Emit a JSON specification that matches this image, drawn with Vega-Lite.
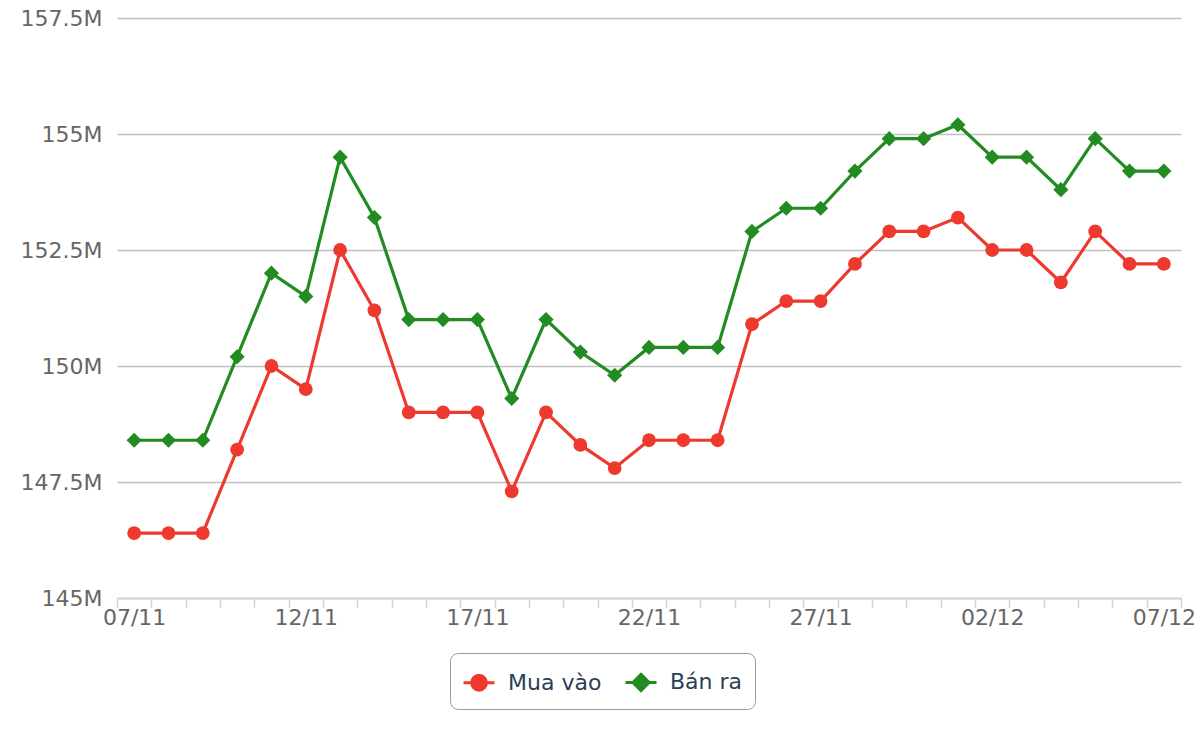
{
  "$schema": "https://vega.github.io/schema/vega-lite/v6.json",
  "width": 1064,
  "height": 580,
  "autosize": "none",
  "padding": {"left": 117, "top": 18, "right": 19, "bottom": 142},
  "background": "white",
  "config": {
    "view": {"stroke": null}, "font": "DejaVu Sans",
    "legend": {"strokeColor": "#999999", "cornerRadius": 8, "padding": 12, "fillColor": "white"}
  },
  "data": {"values": [
    {"date":"07/11","series":"Mua vào","price":146400000},{"date":"07/11","series":"Bán ra","price":148400000},
    {"date":"08/11","series":"Mua vào","price":146400000},{"date":"08/11","series":"Bán ra","price":148400000},
    {"date":"09/11","series":"Mua vào","price":146400000},{"date":"09/11","series":"Bán ra","price":148400000},
    {"date":"10/11","series":"Mua vào","price":148200000},{"date":"10/11","series":"Bán ra","price":150200000},
    {"date":"11/11","series":"Mua vào","price":150000000},{"date":"11/11","series":"Bán ra","price":152000000},
    {"date":"12/11","series":"Mua vào","price":149500000},{"date":"12/11","series":"Bán ra","price":151500000},
    {"date":"13/11","series":"Mua vào","price":152500000},{"date":"13/11","series":"Bán ra","price":154500000},
    {"date":"14/11","series":"Mua vào","price":151200000},{"date":"14/11","series":"Bán ra","price":153200000},
    {"date":"15/11","series":"Mua vào","price":149000000},{"date":"15/11","series":"Bán ra","price":151000000},
    {"date":"16/11","series":"Mua vào","price":149000000},{"date":"16/11","series":"Bán ra","price":151000000},
    {"date":"17/11","series":"Mua vào","price":149000000},{"date":"17/11","series":"Bán ra","price":151000000},
    {"date":"18/11","series":"Mua vào","price":147300000},{"date":"18/11","series":"Bán ra","price":149300000},
    {"date":"19/11","series":"Mua vào","price":149000000},{"date":"19/11","series":"Bán ra","price":151000000},
    {"date":"20/11","series":"Mua vào","price":148300000},{"date":"20/11","series":"Bán ra","price":150300000},
    {"date":"21/11","series":"Mua vào","price":147800000},{"date":"21/11","series":"Bán ra","price":149800000},
    {"date":"22/11","series":"Mua vào","price":148400000},{"date":"22/11","series":"Bán ra","price":150400000},
    {"date":"23/11","series":"Mua vào","price":148400000},{"date":"23/11","series":"Bán ra","price":150400000},
    {"date":"24/11","series":"Mua vào","price":148400000},{"date":"24/11","series":"Bán ra","price":150400000},
    {"date":"25/11","series":"Mua vào","price":150900000},{"date":"25/11","series":"Bán ra","price":152900000},
    {"date":"26/11","series":"Mua vào","price":151400000},{"date":"26/11","series":"Bán ra","price":153400000},
    {"date":"27/11","series":"Mua vào","price":151400000},{"date":"27/11","series":"Bán ra","price":153400000},
    {"date":"28/11","series":"Mua vào","price":152200000},{"date":"28/11","series":"Bán ra","price":154200000},
    {"date":"29/11","series":"Mua vào","price":152900000},{"date":"29/11","series":"Bán ra","price":154900000},
    {"date":"30/11","series":"Mua vào","price":152900000},{"date":"30/11","series":"Bán ra","price":154900000},
    {"date":"01/12","series":"Mua vào","price":153200000},{"date":"01/12","series":"Bán ra","price":155200000},
    {"date":"02/12","series":"Mua vào","price":152500000},{"date":"02/12","series":"Bán ra","price":154500000},
    {"date":"03/12","series":"Mua vào","price":152500000},{"date":"03/12","series":"Bán ra","price":154500000},
    {"date":"04/12","series":"Mua vào","price":151800000},{"date":"04/12","series":"Bán ra","price":153800000},
    {"date":"05/12","series":"Mua vào","price":152900000},{"date":"05/12","series":"Bán ra","price":154900000},
    {"date":"06/12","series":"Mua vào","price":152200000},{"date":"06/12","series":"Bán ra","price":154200000},
    {"date":"07/12","series":"Mua vào","price":152200000},{"date":"07/12","series":"Bán ra","price":154200000}
  ]},
  "encoding": {
    "x": {
      "field": "date", "type": "ordinal", "sort": null,
      "scale": {"type": "band", "paddingInner": 0, "paddingOuter": 0},
      "axis": {
        "title": null, "labelAngle": 0, "tickBand": "extent",
        "domainColor": "#c8d3dc", "domainWidth": 1.5, "tickColor": "#c8d3dc", "tickWidth": 1.5, "tickSize": 9,
        "labelColor": "#666666", "labelFontSize": 22, "labelPadding": 0,
        "labelExpr": "indexof(['07/11','12/11','17/11','22/11','27/11','02/12','07/12'], datum.value) >= 0 ? datum.value : ''",
        "grid": false
      }
    },
    "y": {
      "field": "price", "type": "quantitative",
      "scale": {"domain": [145000000, 157500000], "nice": false, "zero": false},
      "axis": {
        "title": null, "values": [145000000, 147500000, 150000000, 152500000, 155000000, 157500000],
        "labelExpr": "format(datum.value / 1000000, '') + 'M'",
        "domain": false, "ticks": false, "grid": true, "gridColor": "#c0c0c0", "gridWidth": 1.5,
        "labelColor": "#666666", "labelFontSize": 22, "labelPadding": 15
      }
    },
    "color": {
      "field": "series", "type": "nominal", "sort": ["Mua vào", "Bán ra"],
      "scale": {"domain": ["Mua vào", "Bán ra"], "range": ["#ee3a2e", "#228b22"]},
      "legend": {
        "title": null, "orient": "none", "direction": "horizontal", "legendX": 333, "legendY": 635,
        "labelFontSize": 22, "labelColor": "#2b3f57", "symbolSize": 961, "columnPadding": 17, "labelOffset": 12,
        "symbolStrokeWidth": 3, "symbolOpacity": 1,
        "symbolType": {"expr": "datum.value == 'Mua vào' ? 'M-1,0H1M0.48,0A0.48,0.48 0 1,1 -0.48,0A0.48,0.48 0 1,1 0.48,0Z' : 'M-1,0H1M0,-0.52L0.52,0L0,0.52L-0.52,0Z'"},
        "symbolFillColor": {"expr": "datum.value == 'Mua vào' ? '#ee3a2e' : '#228b22'"},
        "symbolStrokeColor": {"expr": "datum.value == 'Mua vào' ? '#ee3a2e' : '#228b22'"}
      }
    }
  },
  "layer": [
    {
      "mark": {"type": "line", "strokeWidth": 3.2}
    },
    {
      "transform": [{"filter": "datum.series == 'Mua vào'"}],
      "mark": {"type": "point", "filled": true, "opacity": 1, "size": 190, "shape": "circle"}
    },
    {
      "transform": [{"filter": "datum.series == 'Bán ra'"}],
      "mark": {"type": "point", "filled": true, "opacity": 1, "size": 230, "shape": "diamond"}
    }
  ]
}
